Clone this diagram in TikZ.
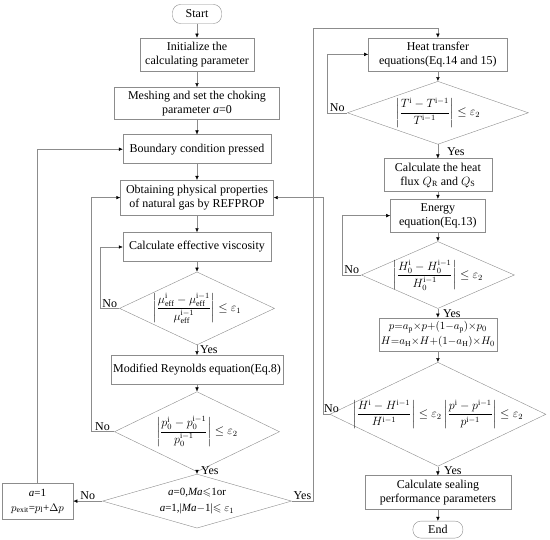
\documentclass[tikz,border=0pt]{standalone}
\usepackage{amsmath,amssymb}
\usepackage{fontspec}
\setmainfont{Liberation Serif}
\usetikzlibrary{arrows.meta,positioning,shapes.geometric}
\newcommand{\relchg}[2]{\left|\dfrac{#1^{\mathrm{i}}_{#2}-#1^{\mathrm{i}-1}_{#2}}{#1^{\mathrm{i}-1}_{#2}}\right|}
\tikzset{
    proc/.style={
        draw=black!45,
        align=center,
        inner sep=2pt,
        font=\fontsize{12}{14}\selectfont
    },
    term/.style={
        draw=black!45,
        rounded corners=8pt,
        align=center,
        inner sep=2pt,
        font=\fontsize{12}{14}\selectfont
    },
    dec/.style={
        draw=black!45,
        diamond,
        inner sep=0pt
    },
    cond/.style={
        align=center,
        inner sep=0pt,
        font=\fontsize{12}{14}\selectfont
    },
    arrow/.style={
        -{Latex[length=4pt,width=3.5pt,color=black]},
        draw=black!45
    },
    lbl/.style={font=\fontsize{12}{14}\selectfont, inner sep=1pt}
}

\begin{document}
\begin{tikzpicture}[x=1pt,y=1pt]
\useasboundingbox (0,0) rectangle (550,-540);

% left column
\node[term, minimum width=49pt, minimum height=19pt] (start) at (197,-14) {Start};
\node[proc, minimum width=114pt, minimum height=33pt, below=14pt of start] (init) {Initialize the\\calculating parameter};
\node[proc, minimum width=165pt, minimum height=32pt, below=16pt of init] (mesh) {Meshing and set the choking\\parameter \textit{a}=0};
\node[proc, minimum width=148pt, minimum height=29pt, below=15pt of mesh] (bound) {Boundary condition pressed};
\node[proc, minimum width=153pt, minimum height=35pt, below=16pt of bound] (props) {Obtaining physical properties\\of natural gas by REFPROP};
\node[proc, minimum width=148pt, minimum height=29pt, below=17pt of props] (visc) {Calculate effective viscosity};
\node[dec, minimum width=155pt, minimum height=73pt, below=10pt of visc] (dmu) {};
\node[cond] (dmutxt) at (dmu) {$\relchg{\mu}{\mathrm{eff}}\le\varepsilon_1$};
\node[proc, minimum width=172pt, minimum height=29pt, below=10pt of dmu] (reyn) {Modified Reynolds equation(Eq.8)};
\node[dec, minimum width=165pt, minimum height=80pt, below=7pt of reyn] (dp) {};
\node[cond] (dptxt) at (dp) {$\relchg{p}{0}\le\varepsilon_2$};
\node[dec, minimum width=189pt, minimum height=54pt, below=2pt of dp] (dma) {};
\node[cond, font=\fontsize{11}{16}\selectfont] (dmatxt) at (dma) {\textit{a}=0,\textit{Ma}$\leqslant$1or\\\textit{a}=1,|\textit{Ma}$-$1|$\leqslant\varepsilon_1$};
\node[proc, font=\fontsize{11}{15}\selectfont, minimum width=71pt, minimum height=36pt, left=29pt of dma] (exit) {\textit{a}=1\\$p_{\mathrm{exit}}$=$p_{\mathrm{l}}$+$\Delta p$};

% right column
\node[proc, minimum width=139pt, minimum height=33pt, right=114pt of init] (heat) {Heat transfer\\equations(Eq.14 and 15)};
\node[dec, minimum width=181pt, minimum height=63pt, below=10pt of heat] (dT) {};
\node[cond] (dTtxt) at (dT) {$\relchg{T}{}\le\varepsilon_2$};
\node[proc, minimum width=108pt, minimum height=33pt, below=14pt of dT] (flux) {Calculate the heat\\flux $Q_{\mathrm{R}}$ and $Q_{\mathrm{S}}$};
\node[proc, minimum width=95pt, minimum height=33pt, below=7pt of flux] (energy) {Energy\\equation(Eq.13)};
\node[dec, minimum width=153pt, minimum height=67pt, below=9pt of energy] (dH) {};
\node[cond] (dHtxt) at (dH) {$\relchg{H}{0}\le\varepsilon_2$};
\node[proc, font=\fontsize{11}{15}\selectfont, minimum width=110pt, minimum height=33pt, below=9pt of dH] (relax) {$p{=}a_{\mathrm{p}}{\times}p{+}(1{-}a_{\mathrm{p}}){\times}p_0$\\$H{=}a_{\mathrm{H}}{\times}H{+}(1{-}a_{\mathrm{H}}){\times}H_0$};
\node[dec, minimum width=216pt, minimum height=104pt, below=11pt of relax] (dHp) {};
\node[cond] (dHptxt) at (dHp) {$\relchg{H}{}\le\varepsilon_2\relchg{p}{}\le\varepsilon_2$};
\node[proc, minimum width=146pt, minimum height=34pt, below=9pt of dHp] (seal) {Calculate sealing\\performance parameters};
\node[term, minimum width=50pt, minimum height=17pt, below=11pt of seal] (end) {End};

% main flow
\draw[arrow] (start) -- (init);
\draw[arrow] (init) -- (mesh);
\draw[arrow] (mesh) -- (bound);
\draw[arrow] (bound) -- (props);
\draw[arrow] (props) -- (visc);
\draw[arrow] (visc) -- (dmu);
\draw[arrow] (dmu) -- node[lbl,right,xshift=2pt] {Yes} (reyn);
\draw[arrow] (reyn) -- (dp);
\draw[arrow] (dp) -- node[lbl,right,xshift=3pt,yshift=2pt] {Yes} (dma);
\draw[arrow] (dma) -- node[lbl,above] {No} (exit);
\draw[arrow] (exit.north) |- (bound.west);
\draw[arrow] (dmu.west) -- node[lbl,above] {No} ++(-19pt,0) |- (visc.west);
\draw[arrow] (dp.west) -- node[lbl,above] {No} ++(-23.5pt,0) |- (props.west);
\draw[arrow] (dma.east) -- node[lbl,above] {Yes} ++(21.5pt,0) |- ([yshift=9.5pt]heat.north) -- (heat.north);

\draw[arrow] (heat) -- (dT);
\draw[arrow] (dT) -- node[lbl,right,xshift=8pt] {Yes} (flux);
\draw[arrow] (dT.west) -- node[lbl,above] {No} ++(-20pt,0) |- (heat.west);
\draw[arrow] (flux) -- (energy);
\draw[arrow] (energy) -- (dH);
\draw[arrow] (dH) -- node[lbl,right,xshift=4pt] {Yes} (relax);
\draw[arrow] (dH.west) -- node[lbl,above] {No} ++(-19pt,0) |- (energy.west);
\draw[arrow] (relax) -- (dHp);
\draw[arrow] (dHp) -- node[lbl,right,xshift=5pt] {Yes} (seal);
\draw[arrow] (dHp.west) -- node[lbl,above,xshift=5pt] {No} ++(-6.5pt,0) |- (props.east);
\draw[arrow] (seal) -- (end);

\end{tikzpicture}
\end{document}
